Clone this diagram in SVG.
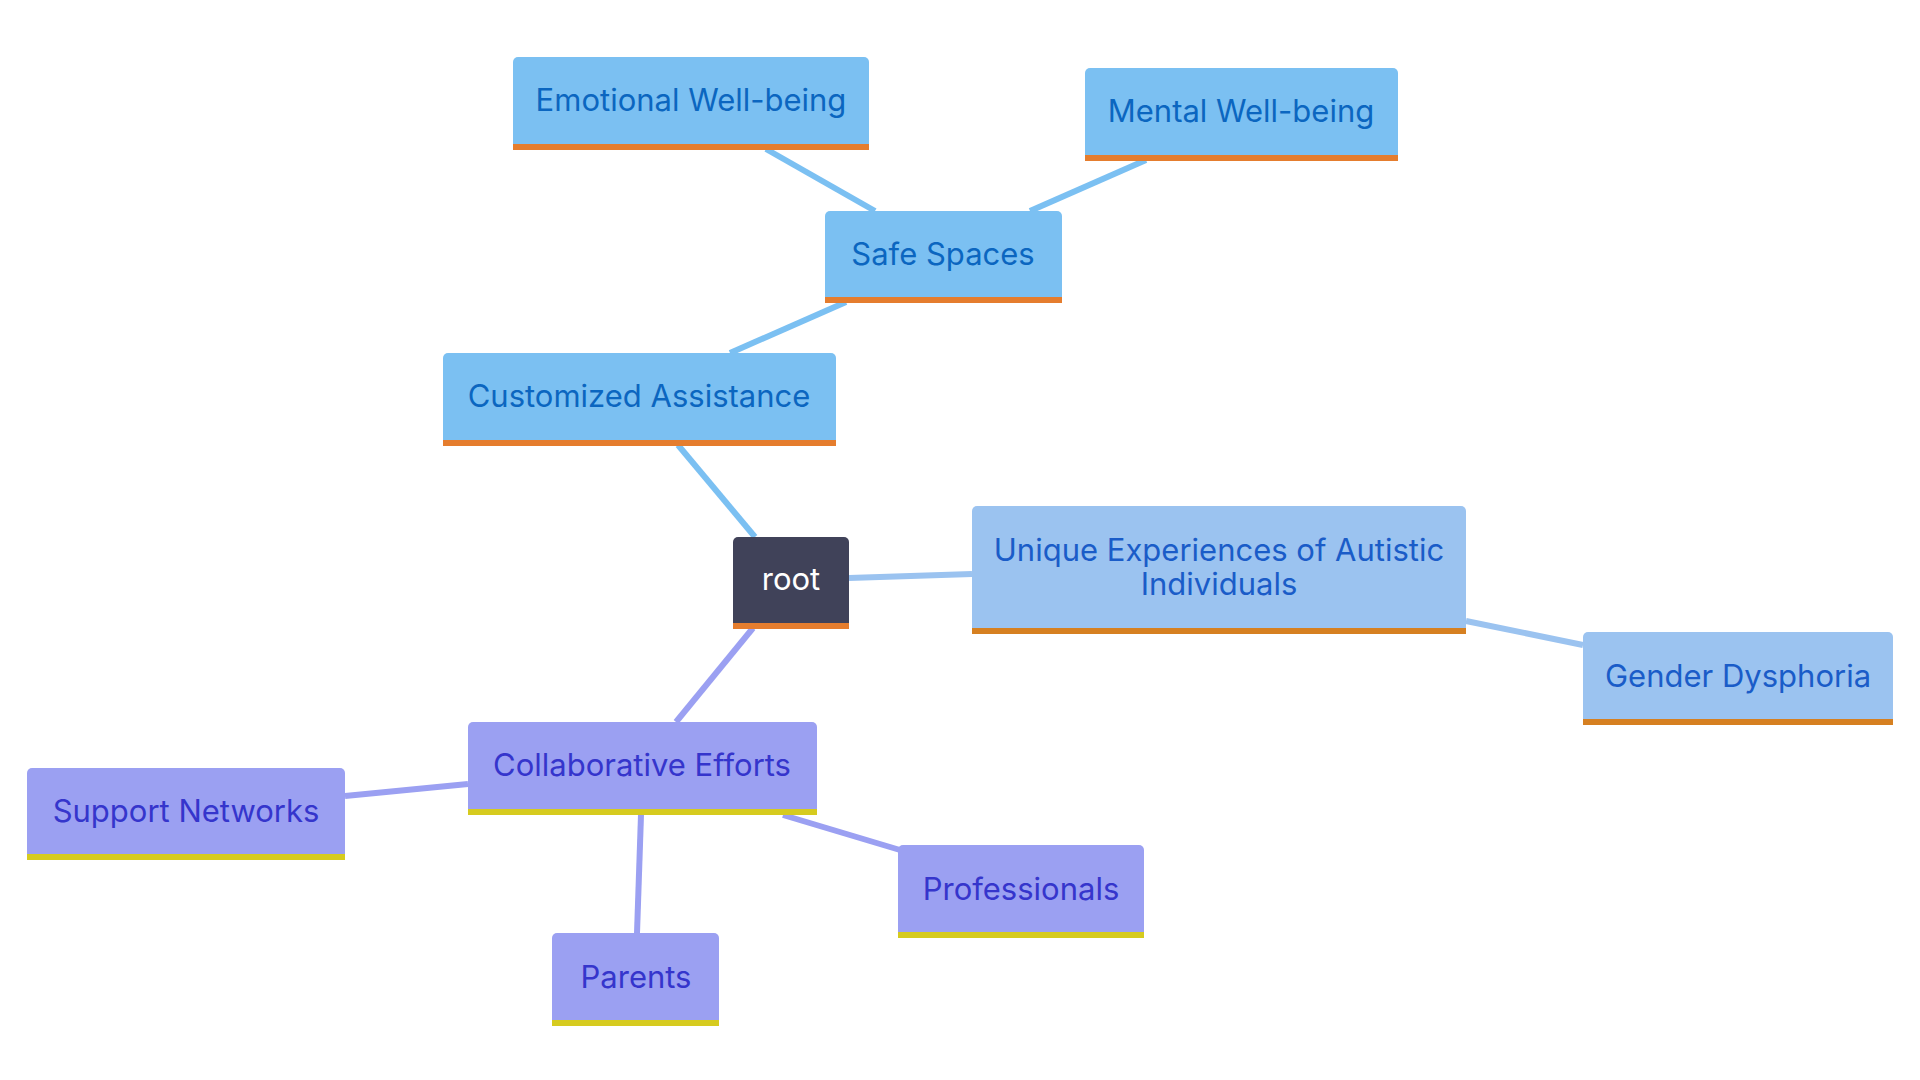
<svg xmlns="http://www.w3.org/2000/svg" width="1920" height="1080" viewBox="0 0 1920 1080">
<style>
text{font-family:Inter,"Noto Sans","Liberation Sans",sans-serif;font-size:31px;text-anchor:middle;dominant-baseline:central}
.b rect.f{fill:#7BC0F2}.b rect.bar{fill:#E57D2E}.b text{fill:#0B66C0}
.u rect.f{fill:#9BC3F0}.u rect.bar{fill:#D68021}.u text{fill:#1A5CC8}
.p rect.f{fill:#9BA0F2}.p rect.bar{fill:#D6CB1F}.p text{fill:#3535CC}
.r rect.f{fill:#404259}.r rect.bar{fill:#E57D2E}.r text{fill:#FFFFFF}
#edges line{stroke-width:6;stroke-linecap:butt}
.eb{stroke:#7BC0F2}.eu{stroke:#9BC3F0}.ep{stroke:#9BA0F2}
</style>
<rect width="1920" height="1080" fill="#FFFFFF"/>
<g id="edges">
<line class="eb" x1="766" y1="149" x2="875" y2="211"/>
<line class="eb" x1="1030" y1="211" x2="1146" y2="160"/>
<line class="eb" x1="730" y1="353" x2="846" y2="302"/>
<line class="eb" x1="755" y1="537" x2="678" y2="445"/>
<line class="eu" x1="849" y1="578" x2="972" y2="574"/>
<line class="eu" x1="1466" y1="621" x2="1583" y2="645"/>
<line class="ep" x1="753" y1="628" x2="676" y2="722"/>
<line class="ep" x1="468" y1="784" x2="345" y2="796"/>
<line class="ep" x1="641" y1="815" x2="637" y2="933"/>
<line class="ep" x1="783" y1="815" x2="900" y2="850"/>
</g>
<g id="emotional" class="b"><rect class="f" x="513" y="57" width="356" height="93" rx="5"/><rect class="bar" x="513" y="144" width="356" height="6"/><text x="691" y="99">Emotional Well-being</text></g>
<g id="mental" class="b"><rect class="f" x="1085" y="68" width="313" height="93" rx="5"/><rect class="bar" x="1085" y="155" width="313" height="6"/><text x="1241" y="110">Mental Well-being</text></g>
<g id="safe" class="b"><rect class="f" x="825" y="211" width="237" height="92" rx="5"/><rect class="bar" x="825" y="297" width="237" height="6"/><text x="943" y="253">Safe Spaces</text></g>
<g id="customized" class="b"><rect class="f" x="443" y="353" width="393" height="93" rx="5"/><rect class="bar" x="443" y="440" width="393" height="6"/><text x="639" y="395">Customized Assistance</text></g>
<g id="root" class="r"><rect class="f" x="733" y="537" width="116" height="92" rx="5"/><rect class="bar" x="733" y="623" width="116" height="6"/><text x="791" y="578">root</text></g>
<g id="unique" class="u"><rect class="f" x="972" y="506" width="494" height="128" rx="5"/><rect class="bar" x="972" y="628" width="494" height="6"/><text x="1219" y="549">Unique Experiences of Autistic</text><text x="1219" y="583">Individuals</text></g>
<g id="gender" class="u"><rect class="f" x="1583" y="632" width="310" height="93" rx="5"/><rect class="bar" x="1583" y="719" width="310" height="6"/><text x="1738" y="675">Gender Dysphoria</text></g>
<g id="collab" class="p"><rect class="f" x="468" y="722" width="349" height="93" rx="5"/><rect class="bar" x="468" y="809" width="349" height="6"/><text x="642" y="764">Collaborative Efforts</text></g>
<g id="support" class="p"><rect class="f" x="27" y="768" width="318" height="92" rx="5"/><rect class="bar" x="27" y="854" width="318" height="6"/><text x="186" y="810">Support Networks</text></g>
<g id="professionals" class="p"><rect class="f" x="898" y="845" width="246" height="93" rx="5"/><rect class="bar" x="898" y="932" width="246" height="6"/><text x="1021" y="888">Professionals</text></g>
<g id="parents" class="p"><rect class="f" x="552" y="933" width="167" height="93" rx="5"/><rect class="bar" x="552" y="1020" width="167" height="6"/><text x="636" y="976">Parents</text></g>
</svg>
